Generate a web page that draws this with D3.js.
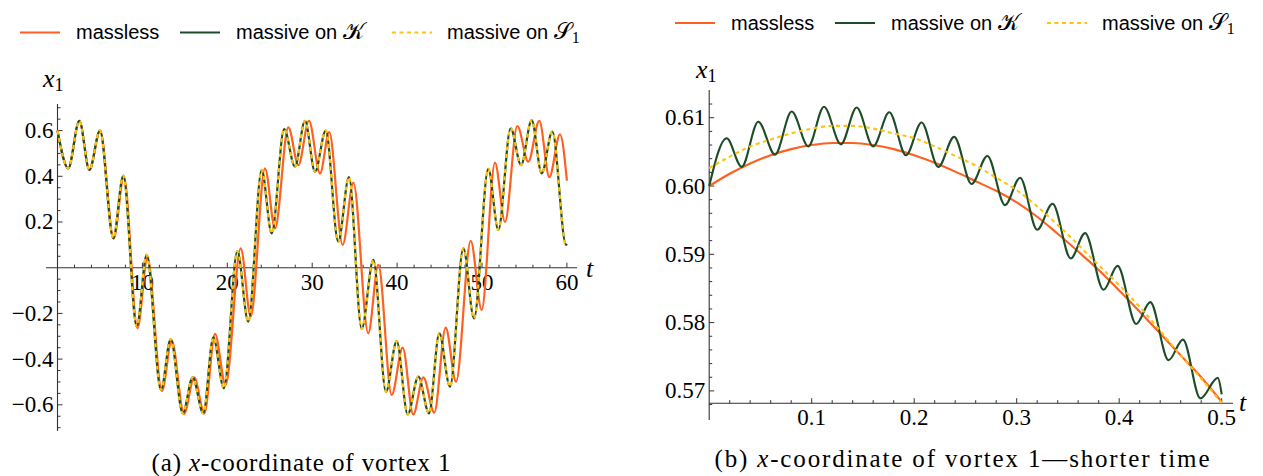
<!DOCTYPE html>
<html><head><meta charset="utf-8">
<script src="https://cdn.jsdelivr.net/npm/d3@7"></script>
<style>body{margin:0;background:#fff} svg{display:block}</style>
</head><body><svg id="c" width="1263" height="476"></svg>
<script>
// ---- data ----
const seriesNames = ["massless", "massive on \u{1D4A6}", "massive on \u{1D4AE}"];
const seriesColors = ["#ff5f1f", "#1d4d27", "#ffc20e"];

// Panel (a): x1 vs t, 0..60
const aMassless = [[0,0.600],[1.27,0.435],[2.57,0.643],[3.77,0.428],[5.03,0.600],[6.62,0.127],[7.82,0.400],[9.42,-0.265],[10.6,0.045],[12.3,-0.540],[13.45,-0.318],[14.9,-0.640],[16.1,-0.480],[17.3,-0.637],[18.55,-0.290],[19.8,-0.513],[21.58,0.085],[22.76,-0.214],[24.44,0.435],[25.62,0.172],[27.19,0.614],[28.37,0.449],[29.62,0.643],[30.92,0.412],[32.0,0.593],[33.59,0.100],[34.85,0.372],[36.6,-0.287],[37.79,0.012],[39.36,-0.557],[40.66,-0.350],[41.9,-0.642],[43.09,-0.480],[44.38,-0.634],[45.72,-0.262],[46.94,-0.499],[48.67,0.118],[49.96,-0.185],[51.53,0.460],[52.71,0.200],[54.16,0.620],[55.45,0.464],[56.75,0.643],[57.93,0.396],[59.19,0.584],[60,0.381]];
const aMassiveK = [[0,0.600],[1.27,0.435],[2.57,0.643],[3.75,0.428],[5.0,0.600],[6.57,0.129],[7.75,0.403],[9.33,-0.258],[10.5,0.056],[12.19,-0.535],[13.33,-0.312],[14.75,-0.637],[15.92,-0.480],[17.17,-0.637],[18.35,-0.305],[19.6,-0.528],[21.18,0.073],[22.47,-0.236],[24.05,0.428],[25.23,0.150],[26.7,0.606],[27.97,0.442],[29.15,0.643],[30.33,0.420],[31.6,0.600],[33.07,0.114],[34.33,0.396],[35.83,-0.268],[37.2,0.034],[38.69,-0.543],[39.95,-0.321],[41.25,-0.642],[42.5,-0.477],[43.76,-0.637],[44.97,-0.287],[46.23,-0.521],[47.8,0.085],[49.06,-0.222],[50.74,0.432],[51.92,0.165],[53.38,0.610],[54.6,0.449],[55.85,0.646],[57.03,0.413],[58.28,0.595],[59.9,0.100],[60,0.104]];
const aMassiveS = aMassiveK.map(d => d.slice()); // coincides with massive on K at this scale
const aTicksX = [10,20,30,40,50,60];
const aTicksY = [-0.6,-0.4,-0.2,0.2,0.4,0.6];

// Panel (b): shorter time, 0..0.5
const bMassless = [[0,0.6000],[0.02,0.6018],[0.04,0.6033],[0.06,0.6045],[0.08,0.6054],[0.10,0.6060],[0.12,0.6063],[0.14,0.6063],[0.16,0.6060],[0.18,0.6054],[0.20,0.6045],[0.22,0.6034],[0.24,0.6021],[0.26,0.6007],[0.28,0.5993],[0.30,0.5976],[0.32,0.5955],[0.34,0.5930],[0.36,0.5904],[0.38,0.5877],[0.40,0.5847],[0.42,0.5816],[0.44,0.5784],[0.46,0.5752],[0.48,0.5720],[0.50,0.5684]];
const bMassiveK = [[0,0.6000],[0.017,0.6070],[0.0317,0.6028],[0.0479,0.6094],[0.0642,0.6046],[0.0805,0.6109],[0.0967,0.6058],[0.112,0.6116],[0.1285,0.6061],[0.1439,0.6115],[0.160,0.6058],[0.1757,0.6108],[0.192,0.6045],[0.2072,0.6093],[0.2235,0.6028],[0.239,0.6072],[0.256,0.6003],[0.2714,0.6044],[0.2886,0.5972],[0.3033,0.6012],[0.320,0.5936],[0.335,0.5974],[0.3527,0.5894],[0.3667,0.5931],[0.3847,0.5848],[0.3984,0.5883],[0.4166,0.5798],[0.4303,0.5830],[0.4482,0.5745],[0.4622,0.5775],[0.4792,0.5689],[0.4962,0.5719],[0.5,0.5695]];
const bMassiveS = [[0,0.6026],[0.02,0.6043],[0.04,0.6058],[0.06,0.6068],[0.08,0.6077],[0.10,0.6084],[0.12,0.6088],[0.14,0.6088],[0.16,0.6084],[0.18,0.6077],[0.20,0.6070],[0.22,0.6058],[0.24,0.6044],[0.26,0.6030],[0.28,0.6012],[0.30,0.5994],[0.32,0.5970],[0.34,0.5943],[0.36,0.5914],[0.38,0.5884],[0.40,0.5855],[0.42,0.5823],[0.44,0.5788],[0.46,0.5752],[0.48,0.5718],[0.50,0.5682]];
const bTicksX = [0.1,0.2,0.3,0.4,0.5];
const bTicksY = [0.57,0.58,0.59,0.60,0.61];

const captionA = ["(a) ", "x", "-coordinate of vortex 1"];
const captionB = ["(b) ", "x", "-coordinate of vortex 1\u2014shorter time"];

// ---- drawing ----
const svg = d3.select("#c");
const AX = "#333";
const SERIF = "'Liberation Serif','DejaVu Serif',serif";
const SANS = "'Liberation Sans','DejaVu Sans',sans-serif";
const fmtMinus = s => s.replace("-", "\u2212");

function panel(o) {
  const x = d3.scaleLinear().domain(o.xDom).range(o.xRange);
  const y = d3.scaleLinear().domain(o.yDom).range(o.yRange);
  const g = svg.append("g");
  const x0 = x(0), yAxisY = y(o.xAxisAt);
  g.append("line").attr("x1", o.xAxisStart).attr("x2", o.xAxisEnd).attr("y1", yAxisY).attr("y2", yAxisY).attr("stroke", AX).attr("stroke-width", 1.1);
  g.append("line").attr("x1", x0).attr("x2", x0).attr("y1", o.yAxisTop).attr("y2", o.yAxisBottom).attr("stroke", AX).attr("stroke-width", 1.1);
  o.xMinor.forEach(v => {
    const major = o.xTicks.some(t => Math.abs(t - v) < 1e-9);
    g.append("line").attr("x1", x(v)).attr("x2", x(v)).attr("y1", yAxisY).attr("y2", yAxisY - (major ? 5 : 3)).attr("stroke", AX).attr("stroke-width", 1);
  });
  o.xTicks.forEach(v => {
    g.append("text").attr("x", x(v)).attr("y", yAxisY + 22).attr("text-anchor", "middle")
      .attr("font-family", SERIF).attr("font-size", 23).text(o.xFmt(v));
  });
  o.yMinor.forEach(v => {
    const major = o.yTicks.some(t => Math.abs(t - v) < 1e-9);
    g.append("line").attr("x1", x0).attr("x2", x0 + (major ? 5 : 3)).attr("y1", y(v)).attr("y2", y(v)).attr("stroke", AX).attr("stroke-width", 1);
  });
  o.yTicks.forEach(v => {
    g.append("text").attr("x", x0 - 4).attr("y", y(v) + 7.5).attr("text-anchor", "end")
      .attr("font-family", SERIF).attr("font-size", 23).text(fmtMinus(o.yFmt(v)));
  });
  g.append("text").attr("x", o.tLabel[0]).attr("y", o.tLabel[1]).attr("font-family", SERIF).attr("font-style", "italic").attr("font-size", 26).text("t");
  const xl = g.append("text").attr("x", o.xLabel[0]).attr("y", o.xLabel[1]).attr("font-family", SERIF).attr("font-size", 26);
  xl.append("tspan").attr("font-style", "italic").text("x");
  xl.append("tspan").attr("font-size", 18).attr("dy", 4).text("1");

  const line = d3.line().x(d => x(d[0])).y(d => y(d[1])).curve(d3.curveMonotoneX);
  const defs = [
    {data: o.s[0], color: seriesColors[0], w: o.w, dash: null},
    {data: o.s[1], color: seriesColors[1], w: o.w, dash: null},
    {data: o.s[2], color: seriesColors[2], w: o.w, dash: "4,3.5"}
  ];
  defs.forEach(s => {
    const p = g.append("path").datum(s.data).attr("d", line).attr("fill", "none")
      .attr("stroke", s.color).attr("stroke-width", s.w).attr("stroke-linejoin", "round");
    if (s.dash) p.attr("stroke-dasharray", s.dash);
  });

  const L = o.legend;
  const items = [
    {x0: L.x + 0, x1: L.x + 40, tx: L.x + 56, color: seriesColors[0], dash: null},
    {x0: L.x + 160, x1: L.x + 200, tx: L.x + 216, color: seriesColors[1], dash: null},
    {x0: L.x + 372, x1: L.x + 412, tx: L.x + 427, color: seriesColors[2], dash: "4,3.5"}
  ];
  items.forEach((it, i) => {
    const ln = g.append("line").attr("x1", it.x0).attr("x2", it.x1).attr("y1", L.y).attr("y2", L.y)
      .attr("stroke", it.color).attr("stroke-width", 2.2);
    if (it.dash) ln.attr("stroke-dasharray", it.dash);
    const t = g.append("text").attr("x", it.tx).attr("y", L.y + 6.5).attr("font-family", SANS).attr("font-size", 20);
    if (i === 0) t.text(seriesNames[0]);
    else {
      t.append("tspan").text("massive on ");
      t.append("tspan").attr("font-family", SERIF).attr("font-size", 23).text(i === 1 ? "\u{1D4A6}" : "\u{1D4AE}");
      if (i === 2) t.append("tspan").attr("font-family", SERIF).attr("font-size", 16).attr("dy", 4).text("1");
    }
  });

  const c = g.append("text").attr("x", o.caption.x).attr("y", o.caption.y).attr("text-anchor", "middle")
    .attr("font-family", SERIF).attr("font-size", 25)
    .attr("textLength", o.caption.len).attr("lengthAdjust", "spacing");
  c.append("tspan").text(o.caption.parts[0]);
  c.append("tspan").attr("font-style", "italic").text(o.caption.parts[1]);
  c.append("tspan").text(o.caption.parts[2]);
}

panel({
  xDom: [0, 60], xRange: [57.5, 566.9],
  yDom: [-0.715, 0.715], yRange: [431.1, 104.3],
  xAxisAt: 0, xAxisStart: 46, xAxisEnd: 577, yAxisTop: 104, yAxisBottom: 431,
  xTicks: aTicksX, xMinor: d3.range(2, 61, 2),
  yTicks: aTicksY, yMinor: d3.range(-14, 15).map(k => k * 0.05).filter(v => Math.abs(v) > 1e-9),
  xFmt: d3.format("d"), yFmt: d3.format(".1f"),
  tLabel: [586, 277], xLabel: [43, 87],
  s: [aMassless, aMassiveK, aMassiveS], w: 2.2,
  legend: {x: 20, y: 32.5},
  caption: {x: 301, y: 471, len: 299, parts: captionA}
});

panel({
  xDom: [0, 0.5], xRange: [709.2, 1221.7],
  yDom: [0.5659, 0.6141], yRange: [418.9, 89.7],
  xAxisAt: 0.5682, xAxisStart: 709.2, xAxisEnd: 1233, yAxisTop: 90, yAxisBottom: 420,
  xTicks: bTicksX, xMinor: d3.range(1, 26).map(k => k * 0.02),
  yTicks: bTicksY, yMinor: d3.range(284, 307).map(k => k * 0.002),
  xFmt: d3.format(".1f"), yFmt: d3.format(".2f"),
  tLabel: [1239, 411], xLabel: [696, 78],
  s: [bMassless, bMassiveK, bMassiveS], w: 2.1,
  legend: {x: 675, y: 23},
  caption: {x: 962, y: 467, len: 495, parts: captionB}
});
</script>
</body></html>
